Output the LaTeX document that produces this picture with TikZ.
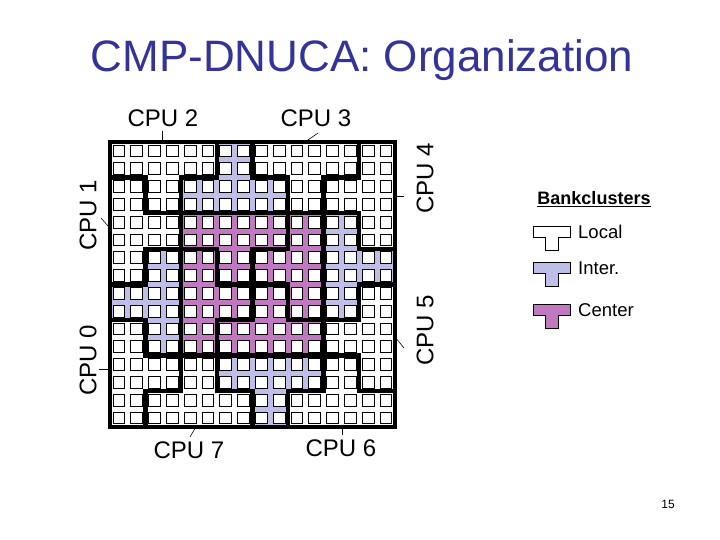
\documentclass[tikz,border=0pt]{standalone}
\usepackage{fontspec}
\setmainfont{Liberation Sans}
\definecolor{inter}{RGB}{190,190,230}
\definecolor{center}{RGB}{192,120,190}
\definecolor{titlec}{RGB}{51,51,153}
\begin{document}
\begin{tikzpicture}[x=1pt,y=1pt,
  cpu/.style={font=\fontsize{24}{26}\selectfont, inner sep=0pt},
  tick/.style={line width=0.6pt},
  clus/.style={line width=4.4pt, line join=miter},
  leg/.style={font=\fontsize{18.5}{20}\selectfont, inner sep=0pt, anchor=west}]
\useasboundingbox (0,0) rectangle (720,-540);
\node[font=\fontsize{44}{48}\selectfont, text=titlec] (title) at (362,-60) {CMP-DNUCA: Organization};
\begin{scope}[shift={(110,-142)}, x=17.8pt, y=17.8pt]
  \foreach \a in {0,90,180,270}{
    \begin{scope}[rotate around={\a:(8,-8)}]
      \fill[inter] (6,0)--(8,0)--(8,-2)--(10,-2)--(10,-4)--(4,-4)--(4,-2)--(6,-2)--cycle;
      \fill[center] (4,-4)--(10,-4)--(10,-6)--(8,-6)--(8,-8)--(6,-8)--(6,-6)--(4,-6)--cycle;
    \end{scope}}
  \foreach \i in {0,...,15}{\foreach \j in {0,...,15}{
    \draw[line width=0.8pt, fill=white] (\i+0.17,-\j-0.17) rectangle (\i+0.83,-\j-0.83);}}
  \foreach \a in {0,90,180,270}{
    \begin{scope}[rotate around={\a:(8,-8)}]
      \draw[clus] (0,0)--(6,0)--(6,-2)--(4,-2)--(4,-4)--(2,-4)--(2,-2)--(0,-2)--cycle;
      \draw[clus] (0,-2)--(2,-2)--(2,-4)--(4,-4)--(4,-6)--(2,-6)--(2,-8)--(0,-8)--cycle;
      \draw[clus] (6,0)--(8,0)--(8,-2)--(10,-2)--(10,-4)--(4,-4)--(4,-2)--(6,-2)--cycle;
      \draw[clus] (4,-4)--(10,-4)--(10,-6)--(8,-6)--(8,-8)--(6,-8)--(6,-6)--(4,-6)--cycle;
    \end{scope}}
  \draw[clus, line cap=rect] (0,0) rectangle (16,-16);
\end{scope}
\node[cpu] (c2) at (163,-118) {CPU 2};
\node[cpu] (c3) at (316,-118) {CPU 3};
\node[cpu, rotate=90] (c1) at (88,-215) {CPU 1};
\node[cpu, rotate=90] (c0) at (88,-360) {CPU 0};
\node[cpu, rotate=90] (c4) at (425,-178) {CPU 4};
\node[cpu, rotate=90] (c5) at (425,-330) {CPU 5};
\node[cpu] (c7) at (189,-450) {CPU 7};
\node[cpu] (c6) at (341,-448) {CPU 6};
\coordinate (s2) at (162,-131); \coordinate (t2) at (162,-142); \draw[tick] (s2) -- (t2);
\coordinate (s3) at (318,-133); \coordinate (t3) at (305,-142); \draw[tick] (s3) -- (t3);
\coordinate (s1) at (101,-218); \coordinate (t1) at (108,-226); \draw[tick] (s1) -- (t1);
\coordinate (s0) at (99,-369); \coordinate (t0) at (110,-369); \draw[tick] (s0) -- (t0);
\coordinate (s4) at (404,-196); \coordinate (t4) at (394,-196); \draw[tick] (s4) -- (t4);
\coordinate (s5) at (404,-348); \coordinate (t5) at (395,-337); \draw[tick] (s5) -- (t5);
\coordinate (s7) at (190,-437); \coordinate (t7) at (197,-425); \draw[tick] (s7) -- (t7);
\coordinate (s6) at (342,-435); \coordinate (t6) at (342,-425); \draw[tick] (s6) -- (t6);
\node[font=\bfseries\fontsize{18}{20}\selectfont, inner sep=0pt] (bk) at (594,-199) {\underline{Bankclusters}};
\foreach \y/\c/\t/\n in {226/white/Local/lo, 262/inter/Inter./in, 304/center/Center/ce}{
  \draw[fill=\c, line width=0.7pt] (533,-\y)--(570,-\y)--(570,-\y-11)--(558,-\y-11)--(558,-\y-24)--(545,-\y-24)--(545,-\y-11)--(533,-\y-11)--cycle;
  \node[leg] (\n) at (578,-\y-6) {\t};
}
\node[font=\fontsize{12}{14}\selectfont] (pg) at (668,-504) {15};
\end{tikzpicture}
\end{document}
